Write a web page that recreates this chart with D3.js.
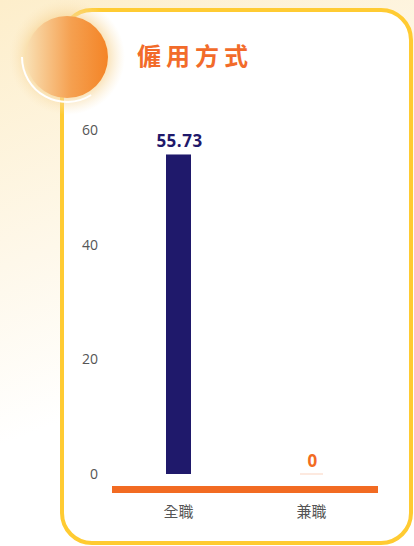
<!DOCTYPE html>
<html>
<head>
<meta charset="utf-8">
<script src="https://cdn.jsdelivr.net/npm/d3@7"></script>
<style>
  html, body { margin: 0; padding: 0; background: #fff; }
  svg { display: block; }
</style>
</head>
<body>
<div id="chart"></div>
<script>
// chart data
var categories = ["全職", "兼職"];
var values = [55.73, 0];
var yTicks = [0, 20, 40, 60];
var title = "僱用方式";

var width = 414,
    height = 546;

var svg = d3.select("#chart").append("svg")
    .attr("width", width)
    .attr("height", height);

var defs = svg.append("defs");

// page background, cream at the top fading to white
var bg = defs.append("linearGradient").attr("id", "bg")
    .attr("x1", 0).attr("y1", 0).attr("x2", 0.3).attr("y2", 1);
bg.append("stop").attr("offset", "0%").attr("stop-color", "#fdeecb");
bg.append("stop").attr("offset", "45%").attr("stop-color", "#fef8ea");
bg.append("stop").attr("offset", "75%").attr("stop-color", "#ffffff");

// orange ball
var ball = defs.append("linearGradient").attr("id", "ball")
    .attr("x1", 0).attr("y1", 0).attr("x2", 1).attr("y2", 0);
ball.append("stop").attr("offset", "0%").attr("stop-color", "#f9e0b4");
ball.append("stop").attr("offset", "55%").attr("stop-color", "#f5a050");
ball.append("stop").attr("offset", "100%").attr("stop-color", "#f48426");

var glow = defs.append("radialGradient").attr("id", "glow");
glow.append("stop").attr("offset", "60%").attr("stop-color", "#f6d18e").attr("stop-opacity", 0.9);
glow.append("stop").attr("offset", "100%").attr("stop-color", "#fbe7c0").attr("stop-opacity", 0);

svg.append("rect")
    .attr("width", width).attr("height", height)
    .attr("fill", "url(#bg)");

// card
svg.append("rect")
    .attr("x", 62).attr("y", 10)
    .attr("width", 349).attr("height", 533)
    .attr("rx", 30).attr("ry", 30)
    .attr("fill", "#fff")
    .attr("stroke", "#ffcb32")
    .attr("stroke-width", 4);

// decoration
var cx = 67, cy = 57;
svg.append("circle").attr("cx", cx).attr("cy", cy).attr("r", 58).attr("fill", "url(#glow)");
svg.append("circle").attr("cx", cx).attr("cy", cy).attr("r", 41).attr("fill", "url(#ball)");
svg.append("path")
    .attr("transform", "translate(" + cx + "," + cy + ")")
    .attr("d", d3.arc()({ innerRadius: 44, outerRadius: 46, startAngle: Math.PI * 1.5, endAngle: Math.PI * 0.82 }))
    .attr("fill", "#fff");

svg.append("text")
    .attr("x", 137).attr("y", 65)
    .attr("fill", "#f26b2a")
    .attr("font-family", "'Noto Sans CJK TC', sans-serif")
    .attr("font-weight", "bold")
    .attr("font-size", 24)
    .attr("letter-spacing", 5)
    .text(title);

// scales
var x = d3.scaleBand()
    .domain(categories)
    .range([112, 378]);

var y = d3.scaleLinear()
    .domain([0, 60])
    .range([474, 130]);

var barWidth = 25;

// y axis
var yAxis = svg.append("g")
    .attr("transform", "translate(98,0)")
    .call(d3.axisLeft(y).tickValues(yTicks).tickSize(0).tickPadding(0));
yAxis.select(".domain").remove();
yAxis.selectAll("text")
    .attr("fill", "#555")
    .attr("font-family", "'Open Sans', sans-serif")
    .attr("font-size", 14);

// bars
svg.selectAll(".bar")
    .data(values)
    .enter().append("rect")
    .attr("class", "bar")
    .attr("x", function(d, i) { return x(categories[i]) + x.bandwidth() / 2 - barWidth / 2; })
    .attr("y", function(d) { return y(d); })
    .attr("width", barWidth)
    .attr("height", function(d) { return y(0) - y(d); })
    .attr("fill", "#1f196b");

// faint marker for empty bar
svg.selectAll(".zero")
    .data(values.filter(function(d) { return d === 0; }))
    .enter().append("rect")
    .attr("x", function(d) { return x(categories[values.indexOf(d)]) + x.bandwidth() / 2 - barWidth / 2 + 1; })
    .attr("y", y(0) - 0.5)
    .attr("width", barWidth - 2)
    .attr("height", 1)
    .attr("fill", "#fcd3c0");

// value labels
svg.selectAll(".val")
    .data(values)
    .enter().append("text")
    .attr("x", function(d, i) { return x(categories[i]) + x.bandwidth() / 2 + 1; })
    .attr("y", function(d) { return y(d) - 7; })
    .attr("text-anchor", "middle")
    .attr("font-family", "'Open Sans', sans-serif")
    .attr("font-weight", "bold")
    .attr("font-size", 17)
    .attr("letter-spacing", 0.5)
    .attr("fill", function(d) { return d === 0 ? "#f26b22" : "#1f196b"; })
    .text(function(d) { return d; });

// baseline
svg.append("rect")
    .attr("x", x.range()[0]).attr("y", 486)
    .attr("width", x.range()[1] - x.range()[0]).attr("height", 7)
    .attr("fill", "#f26b22");

// x axis
var xAxis = svg.append("g")
    .attr("transform", "translate(0,506)")
    .call(d3.axisBottom(x).tickSize(0).tickPadding(0));
xAxis.select(".domain").remove();
xAxis.selectAll("text")
    .attr("fill", "#555")
    .attr("font-family", "'Noto Sans CJK TC', sans-serif")
    .attr("font-size", 15);
</script>
</body>
</html>
